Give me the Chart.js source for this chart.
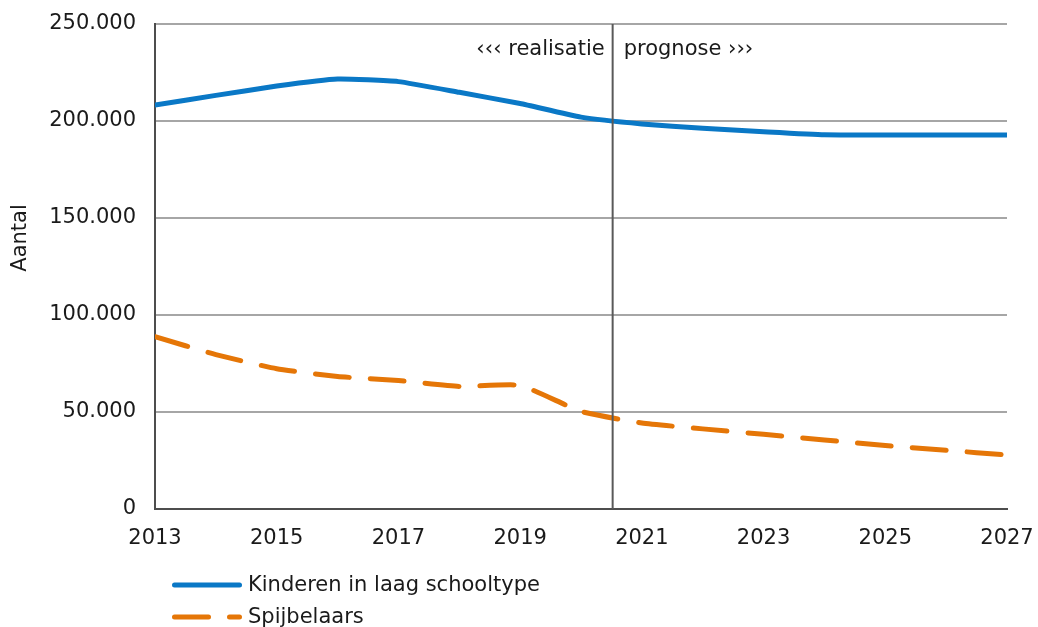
<!DOCTYPE html>
<html>
<head>
<meta charset="utf-8">
<script src="https://cdn.jsdelivr.net/npm/chart.js@4/dist/chart.umd.min.js"></script>
<style>
html, body { margin: 0; padding: 0; background: #fff; }
#wrap { width: 1038px; height: 627px; position: relative; }
</style>
</head>
<body>
<div id="wrap"><canvas id="chart"></canvas></div>
<script>
// Data
const years = [2013, 2014, 2015, 2016, 2017, 2018, 2019, 2020, 2021, 2022, 2023, 2024, 2025, 2026, 2027];
const kinderen = [208200, 213200, 218000, 221600, 220300, 214800, 209000, 202000, 198500, 196300, 194500, 192900, 192800, 192800, 192800];
const spijbelaars = [88800, 79600, 72300, 68300, 66200, 63200, 63700, 50300, 44300, 41300, 38500, 35600, 32700, 30300, 27800];
const seriesLabels = ["Kinderen in laag schooltype", "Spijbelaars"];
const yTicks = [0, 50000, 100000, 150000, 200000, 250000];
const yTitle = "Aantal";
const splitYear = 2020.52;
const splitLabels = ["\u2039\u2039\u2039 realisatie", "prognose \u203a\u203a\u203a"];

const FONT = "'DejaVu Sans', Verdana, sans-serif";
const TEXT = "#1a1a1a";

// Format like 250.000
const fmt = (v) => String(v).replace(/\B(?=(\d{3})+(?!\d))/g, ".");

const toPoints = (vals) => vals.map((v, i) => ({ x: years[i], y: v }));

// Vertical split line with labels, plus the y axis title
const splitPlugin = {
  id: "split",
  afterDatasetsDraw(chart) {
    const { ctx, chartArea, scales } = chart;
    const x = scales.x.getPixelForValue(splitYear);
    ctx.save();
    ctx.strokeStyle = "#595959";
    ctx.lineWidth = 2;
    ctx.beginPath();
    ctx.moveTo(x, chartArea.top);
    ctx.lineTo(x, chartArea.bottom);
    ctx.stroke();
    ctx.font = "21px " + FONT;
    ctx.fillStyle = TEXT;
    ctx.textBaseline = "middle";
    ctx.textAlign = "right";
    ctx.fillText(splitLabels[0], x - 8, chartArea.top + 26);
    ctx.textAlign = "left";
    ctx.fillText(splitLabels[1], x + 11, chartArea.top + 26);

    // y title, sits a bit above the middle
    ctx.translate(21, chartArea.top + 214);
    ctx.rotate(-Math.PI / 2);
    ctx.textAlign = "center";
    ctx.fillText(yTitle, 0, 0);
    ctx.restore();
  }
};

// Legend drawn in two rows below the axis
const legendPlugin = {
  id: "legendRows",
  afterDraw(chart) {
    const { ctx, chartArea } = chart;
    const x0 = chartArea.left + 19.5;
    const x1 = chartArea.left + 84.5;
    ctx.save();
    chart.data.datasets.forEach((ds, i) => {
      const y = chartArea.bottom + 76 + i * 32;
      ctx.strokeStyle = ds.borderColor;
      ctx.lineWidth = ds.borderWidth;
      ctx.lineCap = "round";
      ctx.setLineDash(ds.borderDash || []);
      ctx.beginPath();
      ctx.moveTo(x0, y);
      ctx.lineTo(x1, y);
      ctx.stroke();
      ctx.setLineDash([]);
      ctx.font = "21px " + FONT;
      ctx.fillStyle = TEXT;
      ctx.textBaseline = "middle";
      ctx.textAlign = "left";
      ctx.fillText(ds.label, chartArea.left + 93, y + 1);
    });
    ctx.restore();
  }
};

new Chart(document.getElementById("chart"), {
  type: "line",
  data: {
    datasets: [
      {
        label: seriesLabels[0],
        data: toPoints(kinderen),
        borderColor: "#0a78c6",
        borderWidth: 5,
        pointRadius: 0,
        tension: 0.15,
        borderCapStyle: "round"
      },
      {
        label: seriesLabels[1],
        data: toPoints(spijbelaars),
        borderColor: "#e57607",
        borderWidth: 5,
        borderDash: [34, 21],
        borderCapStyle: "round",
        pointRadius: 0,
        tension: 0.15
      }
    ]
  },
  options: {
    responsive: true,
    maintainAspectRatio: false,
    animation: false,
    layout: { padding: { top: 24, right: 31, bottom: 0, left: 0 } },
    plugins: {
      legend: { display: false },
      tooltip: { enabled: false }
    },
    scales: {
      x: {
        type: "linear",
        min: years[0],
        max: years[years.length - 1],
        afterFit: (s) => {
          s.height = 118;
          s.paddingLeft = 0;
          s.paddingRight = 0;
        },
        afterBuildTicks: (s) => {
          s.ticks = years.filter((y, i) => i % 2 === 0).map((v) => ({ value: v }));
        },
        grid: { display: false, drawTicks: false },
        border: { display: true, color: "#4d4d4d", width: 2 },
        ticks: {
          padding: 17,
          maxRotation: 0,
          color: TEXT,
          font: { family: FONT, size: 21 },
          callback: (v) => String(v)
        }
      },
      y: {
        min: yTicks[0],
        max: yTicks[yTicks.length - 1],
        afterFit: (s) => {
          s.width = 155;
          s.paddingTop = 0;
          s.paddingBottom = 0;
        },
        afterBuildTicks: (s) => { s.ticks = yTicks.map((v) => ({ value: v })); },
        grid: { color: "#a6a6a6", lineWidth: 2, drawTicks: false },
        border: { display: true, color: "#4d4d4d", width: 2 },
        ticks: {
          padding: 19,
          color: TEXT,
          font: { family: FONT, size: 21 },
          callback: (v) => fmt(v)
        }
      }
    }
  },
  plugins: [splitPlugin, legendPlugin]
});
</script>
</body>
</html>
